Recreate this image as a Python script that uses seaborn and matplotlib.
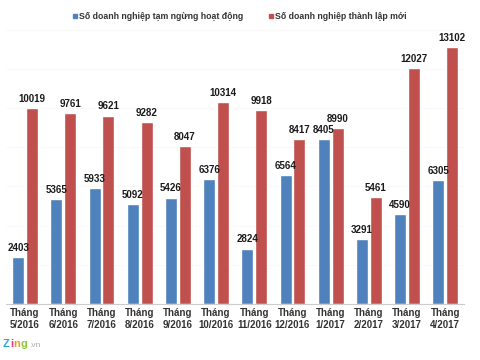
import matplotlib
matplotlib.use("Agg")
import matplotlib.pyplot as plt
import seaborn as sns
import pandas as pd
from matplotlib.lines import Line2D

months = ["Tháng\n5/2016", "Tháng\n6/2016", "Tháng\n7/2016", "Tháng\n8/2016", "Tháng\n9/2016",
          "Tháng\n10/2016", "Tháng\n11/2016", "Tháng\n12/2016", "Tháng\n1/2017", "Tháng\n2/2017",
          "Tháng\n3/2017", "Tháng\n4/2017"]
tam_ngung = [2403, 5365, 5933, 5092, 5426, 6376, 2824, 6564, 8405, 3291, 4590, 6305]
thanh_lap = [10019, 9761, 9621, 9282, 8047, 10314, 9918, 8417, 8990, 5461, 12027, 13102]
series_names = ["Số doanh nghiệp tạm ngừng hoạt động", "Số doanh nghiệp thành lập mới"]
colors = ["#4F81BD", "#C0504D"]

df = pd.DataFrame({
    "month": months * 2,
    "value": tam_ngung + thanh_lap,
    "series": [series_names[0]] * len(months) + [series_names[1]] * len(months),
})

sns.set_theme(style="white")
plt.rcParams['font.family'] = ['Liberation Sans', 'DejaVu Sans']

fig = plt.figure(figsize=(4.8, 3.6), dpi=100)
ax = fig.add_axes([0.0125, 0.156, 0.955, 0.761])
sns.barplot(data=df, x="month", y="value", hue="series", palette=colors,
            width=0.72, gap=0.12, ax=ax, legend=False, saturation=1)

for cont in ax.containers:
    ax.bar_label(cont, fmt="%d", fontsize=7, fontweight="bold", color="#1a1a1a", padding=3)

ax.set_ylim(0, 14000)
ax.set_xlim(-0.5, len(months) - 0.5)
ax.set_yticks(range(0, 14001, 2000))
ax.yaxis.grid(True, color="#f7f7f7", linewidth=0.6)
ax.set_axisbelow(True)
ax.set_yticklabels([])
ax.tick_params(axis="y", length=0)
ax.tick_params(axis="x", length=0, pad=3)
for lab in ax.get_xticklabels():
    lab.set_fontsize(7)
    lab.set_fontweight("bold")
    lab.set_color("#333333")
ax.set_xlabel("")
ax.set_ylabel("")
for s in ["top", "right", "left"]:
    ax.spines[s].set_visible(False)
ax.spines["bottom"].set_color("#cccccc")
ax.spines["bottom"].set_linewidth(0.8)

handles = [Line2D([], [], marker="s", linestyle="", markersize=3.5, color=c) for c in colors]
leg = fig.legend(handles, series_names, loc="center", bbox_to_anchor=(0.497, 0.953), ncol=2,
                 frameon=False, fontsize=6.3, handletextpad=0.0, columnspacing=2.6,
                 handlelength=1.0)
for t in leg.get_texts():
    t.set_fontweight("bold")
    t.set_color("#333333")

fig.text(0.005, 0.035, "Z", color="#2aa6df", fontsize=8, fontweight="bold")
fig.text(0.021, 0.035, "i", color="#e6398b", fontsize=8, fontweight="bold")
fig.text(0.027, 0.035, "n", color="#f29a1f", fontsize=8, fontweight="bold")
fig.text(0.043, 0.035, "g", color="#8cc63f", fontsize=8, fontweight="bold")
fig.text(0.060, 0.035, ".vn", color="#aaaaaa", fontsize=6)

fig.savefig("out.png", dpi=100, facecolor="white")
